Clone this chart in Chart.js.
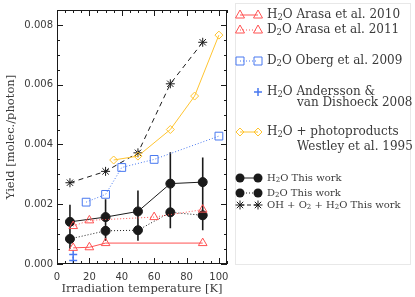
<!DOCTYPE html>
<html>
<head>
<meta charset="utf-8">
<script src="https://cdn.jsdelivr.net/npm/chart.js@4.4.0/dist/chart.umd.min.js"></script>
<style>
  html, body { margin: 0; padding: 0; background: #fff; }
</style>
</head>
<body>
<canvas id="yieldChart" width="415" height="297"></canvas>
<script>
// Irradiation temperatures (K) and yields (molec./photon)
const arasaH2oT = [10, 20, 30, 90];
const arasaH2oY = [0.00054, 0.00056, 0.00070, 0.00070];
const arasaD2oT = [10, 20, 60, 90];
const arasaD2oY = [0.00127, 0.00146, 0.00157, 0.00182];
const obergT = [18, 30, 40, 60, 100];
const obergY = [0.00207, 0.00233, 0.00323, 0.00350, 0.00428];
const anderssonT = [10, 10];
const anderssonY = [0.00032, 0.00012];
const westleyT = [35, 50, 70, 85, 100];
const westleyY = [0.00348, 0.00361, 0.00450, 0.00562, 0.00766];
const thisWorkT = [8, 30, 50, 70, 90];
const h2oY = [0.00141, 0.00157, 0.00176, 0.00269, 0.00274];
const h2oErr = [0.00057, 0.00060, 0.00070, 0.00105, 0.00082];
const d2oY = [0.00084, 0.00111, 0.00113, 0.00173, 0.00163];
const d2oErr = [0.00033, 0.00033, 0.00035, 0.00053, 0.00050];
const ohY = [0.00272, 0.00310, 0.00372, 0.00603, 0.00742];

const xTickLabels = [0, 20, 40, 60, 80, 100];
const yTickLabels = [0, 0.002, 0.004, 0.006, 0.008];

const RED = 'rgb(255,82,82)';
const BLUE = 'rgb(72,120,240)';
const GOLD = 'rgb(255,196,48)';
const INK = '#1a1a1a';
const TEXT = '#3a3a3a';

const pts = (xs, ys) => xs.map((x, i) => ({ x: x, y: ys[i] }));
const isLabel = (list, v) => list.some(t => Math.abs(t - v) < 1e-9);

// legend rows: parts starting with '_' are subscripts
const legendRows = [
  { y: 15, marker: 'triangle', color: RED, dash: [], pair: true, size: 12, lines: [['H', '_2', 'O Arasa et al. 2010']] },
  { y: 30, marker: 'triangle', color: RED, dash: [1, 2], pair: true, size: 12, lines: [['D', '_2', 'O Arasa et al. 2011']] },
  { y: 61, marker: 'rect', color: BLUE, dash: [1, 2], pair: true, size: 12, lines: [['D', '_2', 'O Oberg et al. 2009']] },
  { y: 92, marker: 'cross', color: BLUE, dash: [], pair: false, size: 12, gap: 11, lines: [['H', '_2', 'O Andersson &'], ['van Dishoeck 2008']] },
  { y: 132, marker: 'rectRot', color: GOLD, dash: [], pair: true, size: 12, gap: 15, lines: [['H', '_2', 'O + photoproducts'], ['Westley et al. 1995']] },
  { y: 178, marker: 'circle', color: INK, dash: [], pair: true, size: 10, lines: [['H', '_2', 'O This work']] },
  { y: 193, marker: 'circle', color: INK, dash: [1, 2], pair: true, size: 10, lines: [['D', '_2', 'O This work']] },
  { y: 205, marker: 'star', color: INK, dash: [4, 3], pair: true, size: 10, lines: [['OH + O', '_2', ' + H', '_2', 'O This work']] }
];

// small marker painter for the legend
function drawMarker(ctx, style, x, y, color) {
  ctx.save();
  ctx.strokeStyle = color;
  ctx.fillStyle = color;
  ctx.lineWidth = 1;
  ctx.setLineDash([]);
  ctx.beginPath();
  if (style === 'triangle') {
    ctx.moveTo(x, y - 5);
    ctx.lineTo(x + 4.5, y + 3);
    ctx.lineTo(x - 4.5, y + 3);
    ctx.closePath();
    ctx.stroke();
  } else if (style === 'rect') {
    ctx.rect(x - 4, y - 4, 8, 8);
    ctx.stroke();
  } else if (style === 'rectRot') {
    ctx.moveTo(x, y - 4);
    ctx.lineTo(x + 4, y);
    ctx.lineTo(x, y + 4);
    ctx.lineTo(x - 4, y);
    ctx.closePath();
    ctx.stroke();
  } else if (style === 'cross') {
    ctx.lineWidth = 1.5;
    ctx.moveTo(x - 4, y); ctx.lineTo(x + 4, y);
    ctx.moveTo(x, y - 4); ctx.lineTo(x, y + 4);
    ctx.stroke();
  } else if (style === 'circle') {
    ctx.arc(x, y, 4.5, 0, Math.PI * 2);
    ctx.fill();
  } else if (style === 'star') {
    ctx.moveTo(x - 4.5, y); ctx.lineTo(x + 4.5, y);
    ctx.moveTo(x, y - 4.5); ctx.lineTo(x, y + 4.5);
    ctx.moveTo(x - 3.2, y - 3.2); ctx.lineTo(x + 3.2, y + 3.2);
    ctx.moveTo(x - 3.2, y + 3.2); ctx.lineTo(x + 3.2, y - 3.2);
    ctx.stroke();
  }
  ctx.restore();
}

function drawRich(ctx, parts, x, y, size) {
  let cx = x;
  parts.forEach(p => {
    const sub = p.startsWith('_');
    const txt = sub ? p.slice(1) : p;
    const fs = sub ? size * 0.7 : size;
    ctx.font = fs + 'px "DejaVu Serif"';
    ctx.fillText(txt, cx, sub ? y + size * 0.25 : y);
    cx += ctx.measureText(txt).width;
  });
}

const customLegend = {
  id: 'customLegend',
  afterDraw(chart) {
    const ctx = chart.ctx;
    ctx.save();
    ctx.strokeStyle = '#e8e8e8';
    ctx.lineWidth = 1;
    ctx.strokeRect(235.5, 3.5, 175, 261);
    ctx.textBaseline = 'middle';
    legendRows.forEach(row => {
      const x1 = 240, x2 = 258;
      if (row.pair) {
        ctx.save();
        ctx.strokeStyle = row.color;
        ctx.lineWidth = 1;
        ctx.setLineDash(row.dash);
        ctx.beginPath();
        ctx.moveTo(x1, row.y);
        ctx.lineTo(x2, row.y);
        ctx.stroke();
        ctx.restore();
        drawMarker(ctx, row.marker, x1, row.y, row.color);
      }
      drawMarker(ctx, row.marker, x2, row.y, row.color);
      ctx.fillStyle = TEXT;
      row.lines.forEach((ln, i) => {
        drawRich(ctx, ln, i === 0 ? 267 : 297, row.y + i * (row.gap || 11), row.size);
      });
    });
    ctx.restore();
  }
};

// frame with inward major / minor ticks on all four sides
const frameTicks = {
  id: 'frameTicks',
  afterDatasetsDraw(chart) {
    const { ctx, chartArea: a, scales: { x, y } } = chart;
    ctx.save();
    ctx.strokeStyle = INK;
    ctx.lineWidth = 1;
    ctx.setLineDash([]);
    ctx.strokeRect(a.left + 0.5, a.top + 0.5, a.right - a.left - 1, a.bottom - a.top - 1);
    ctx.beginPath();
    x.ticks.forEach(t => {
      const px = Math.round(x.getPixelForValue(t.value)) + 0.5;
      const len = isLabel(xTickLabels, t.value) ? 6 : 3;
      ctx.moveTo(px, a.bottom); ctx.lineTo(px, a.bottom - len);
      ctx.moveTo(px, a.top); ctx.lineTo(px, a.top + len);
    });
    y.ticks.forEach(t => {
      const py = Math.round(y.getPixelForValue(t.value)) + 0.5;
      const len = isLabel(yTickLabels, t.value) ? 6 : 3;
      ctx.moveTo(a.left, py); ctx.lineTo(a.left + len, py);
      ctx.moveTo(a.right, py); ctx.lineTo(a.right - len, py);
    });
    ctx.stroke();
    ctx.restore();
  }
};

// vertical error bars for "This work"
const errorBars = {
  id: 'errorBars',
  beforeDatasetsDraw(chart) {
    const { ctx, scales: { x, y } } = chart;
    const sets = [[h2oY, h2oErr], [d2oY, d2oErr]];
    ctx.save();
    ctx.strokeStyle = INK;
    ctx.lineWidth = 1.6;
    ctx.beginPath();
    sets.forEach(([vals, errs]) => {
      vals.forEach((v, i) => {
        const px = x.getPixelForValue(thisWorkT[i]);
        ctx.moveTo(px, y.getPixelForValue(v + errs[i]));
        ctx.lineTo(px, y.getPixelForValue(v - errs[i]));
      });
    });
    ctx.stroke();
    ctx.restore();
  }
};

const line = (data, color, style, radius, dash, filled) => ({
  data: data,
  showLine: true,
  borderColor: color,
  backgroundColor: filled ? color : 'rgba(0,0,0,0)',
  pointBorderColor: color,
  pointBackgroundColor: filled ? color : 'rgba(0,0,0,0)',
  borderWidth: 1,
  borderDash: dash,
  pointStyle: style,
  pointRadius: radius,
  pointBorderWidth: 1,
  tension: 0
});

const ctx = document.getElementById('yieldChart');

new Chart(ctx, {
  type: 'scatter',
  data: {
    datasets: [
      line(pts(arasaH2oT, arasaH2oY), RED, 'triangle', 5, [], false),
      line(pts(arasaD2oT, arasaD2oY), RED, 'triangle', 5, [1, 2], false),
      line(pts(obergT, obergY), BLUE, 'rect', 5.5, [1, 2], false),
      Object.assign(line(pts(anderssonT, anderssonY), BLUE, 'cross', 4, [], false), { showLine: false, pointBorderWidth: 1.5 }),
      line(pts(westleyT, westleyY), GOLD, 'rectRot', 4, [], false),
      line(pts(thisWorkT, ohY), INK, 'star', 4.5, [5, 4], false),
      line(pts(thisWorkT, d2oY), INK, 'circle', 4.5, [1, 2], true),
      line(pts(thisWorkT, h2oY), INK, 'circle', 4.5, [], true)
    ]
  },
  options: {
    responsive: false,
    animation: false,
    layout: { padding: { top: 3, right: 188, left: 0, bottom: 0 } },
    plugins: {
      legend: { display: false },
      tooltip: { enabled: false }
    },
    scales: {
      x: {
        type: 'linear',
        min: 0,
        max: 105,
        afterFit: s => { s.height = 33; },
        grid: { display: false, drawTicks: false },
        border: { display: false },
        ticks: {
          stepSize: 5,
          autoSkip: false,
          maxRotation: 0,
          padding: 7,
          color: TEXT,
          font: { family: 'DejaVu Sans', size: 10 },
          callback: v => isLabel(xTickLabels, v) ? String(v) : ''
        },
        title: {
          display: true,
          text: 'Irradiation temperature [K]',
          color: TEXT,
          font: { family: 'DejaVu Serif', size: 11.5 },
          padding: { top: 0, bottom: 1 }
        }
      },
      y: {
        type: 'linear',
        min: 0,
        max: 0.0085,
        afterFit: s => { s.width = 57; },
        grid: { display: false, drawTicks: false },
        border: { display: false },
        ticks: {
          stepSize: 0.0005,
          autoSkip: false,
          padding: 4,
          color: TEXT,
          font: { family: 'DejaVu Sans', size: 10 },
          callback: v => isLabel(yTickLabels, v) ? v.toFixed(3) : ''
        },
        title: {
          display: true,
          text: 'Yield [molec./photon]',
          color: TEXT,
          font: { family: 'DejaVu Serif', size: 11.5 },
          padding: { top: 4, bottom: 0 }
        }
      }
    }
  },
  plugins: [errorBars, frameTicks, customLegend]
});
</script>
</body>
</html>
